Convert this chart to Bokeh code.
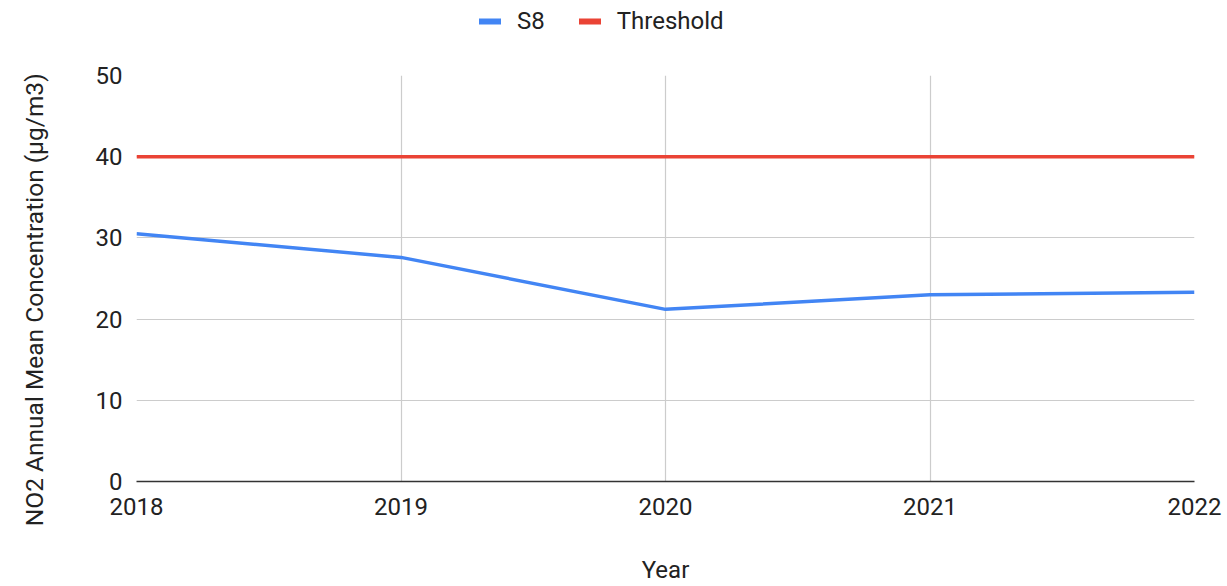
from bokeh.plotting import figure
from bokeh.layouts import column
from bokeh.models import Range1d, FixedTicker, Legend, LegendItem
from bokeh.embed import file_html
from bokeh.resources import INLINE

years = [2018, 2019, 2020, 2021, 2022]
s8 = [30.5, 27.6, 21.2, 23.0, 23.3]
threshold = [40, 40, 40, 40, 40]
y_ticks = [0, 10, 20, 30, 40, 50]
series_names = ["S8", "Threshold"]
colors = ["#4285F4", "#EA4335"]
x_title = "Year"
y_title = "NO2 Annual Mean Concentration (µg/m3)"

FONT = "Roboto"
TXT = "#222222"
W, H = 1227, 586
LEG_H = 50
MAIN_H = H - LEG_H

# ---- legend strip ----
lg = figure(width=W, height=LEG_H, output_backend="svg", toolbar_location=None,
            x_range=Range1d(0, 1), y_range=Range1d(0, 1),
            x_axis_type=None, y_axis_type=None, min_border=0)
lg.outline_line_color = None
lg.xgrid.visible = False
lg.ygrid.visible = False
lg.background_fill_color = "white"
lg.border_fill_color = "white"
# swatch-only renderers, placed outside the visible range
d1 = lg.line(x=[-10, -9], y=[-10, -10], line_color=colors[0], line_width=6, line_cap="round")
d2 = lg.line(x=[-10, -9], y=[-10, -10], line_color=colors[1], line_width=6, line_cap="round")
legend = Legend(items=[LegendItem(label=series_names[0], renderers=[d1]),
                       LegendItem(label=series_names[1], renderers=[d2])],
                orientation="horizontal", location=(343, 15),
                padding=0, margin=0, spacing=34, label_standoff=16,
                glyph_width=22, glyph_height=20,
                border_line_color=None, background_fill_alpha=0,
                label_text_font=FONT, label_text_font_size="24px", label_text_color=TXT)
lg.add_layout(legend, "center")

# ---- main chart ----
p = figure(width=W, height=MAIN_H, output_backend="svg", toolbar_location=None,
           x_range=Range1d(2018, 2022), y_range=Range1d(0, 50),
           min_border_left=136, min_border_right=33, min_border_top=75 - LEG_H,
           min_border_bottom=105)
p.outline_line_color = None
p.background_fill_color = "white"
p.border_fill_color = "white"

p.line(years, s8, line_color=colors[0], line_width=3.5)
p.line(years, threshold, line_color=colors[1], line_width=3.5)

p.xaxis.ticker = FixedTicker(ticks=years)
p.yaxis.ticker = FixedTicker(ticks=y_ticks)
p.xaxis.axis_label = x_title
# trailing no-break spaces nudge the centred title slightly downward, as in the reference
p.yaxis.axis_label = y_title + "\u00a0" * 7

for ax in (p.xaxis[0], p.yaxis[0]):
    ax.major_tick_line_color = None
    ax.minor_tick_line_color = None
    ax.major_tick_out = 0
    ax.major_tick_in = 0
    ax.minor_tick_out = 0
    ax.minor_tick_in = 0
    ax.major_label_text_font = FONT
    ax.major_label_text_font_size = "24px"
    ax.major_label_text_color = TXT
    ax.axis_label_text_font = FONT
    ax.axis_label_text_font_style = "normal"
    ax.axis_label_text_color = TXT

p.xaxis.axis_label_text_font_size = "24px"
p.yaxis.axis_label_text_font_size = "24.5px"
p.xaxis.axis_line_color = "#333333"
p.xaxis.axis_line_width = 1.5
p.yaxis.axis_line_color = None
p.xaxis.major_label_standoff = 16
p.xaxis.axis_label_standoff = 38
p.yaxis.major_label_standoff = 14
p.yaxis.axis_label_standoff = 44

p.xgrid.grid_line_color = "#cccccc"
p.ygrid.grid_line_color = "#cccccc"
p.xgrid.grid_line_width = 1.2
p.ygrid.grid_line_width = 1.2

layout = column(lg, p, spacing=0)
open("out.html", "w").write(file_html(layout, INLINE))
